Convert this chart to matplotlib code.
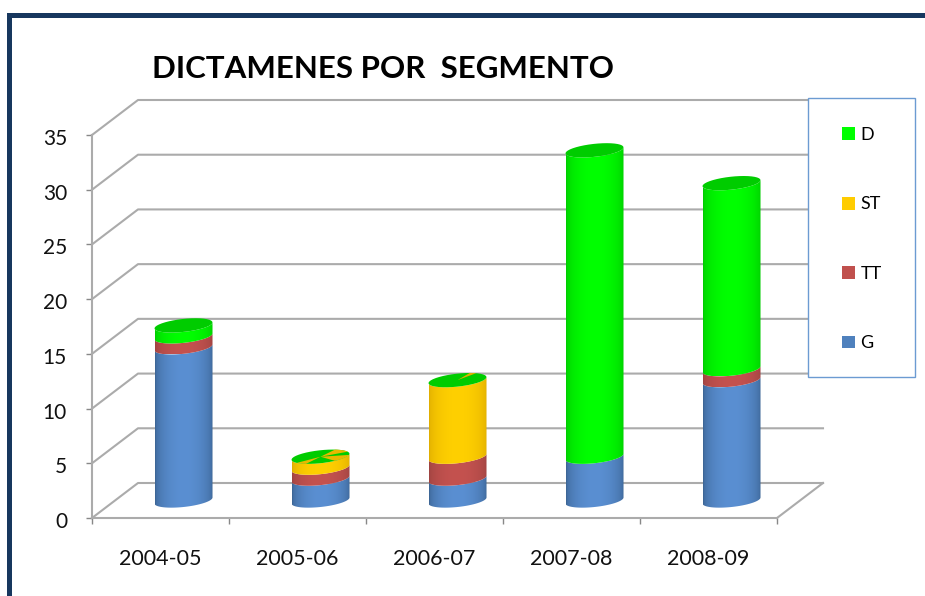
import matplotlib
matplotlib.use('Agg')
import matplotlib.pyplot as plt
from matplotlib.patches import Patch, Polygon, Rectangle
from matplotlib.transforms import ScaledTranslation
import numpy as np

# datos
periodos = ['2004-05', '2005-06', '2006-07', '2007-08', '2008-09']
G = [14, 2, 2, 4, 11]
TT = [1, 1, 2, 0, 1]
ST = [0, 1, 7, 0, 0]
D = [1, 0, 0, 28, 17]

series = [G, TT, ST, D]
nombres = ['G', 'TT', 'ST', 'D']
colores = ['#5A8FD2', '#C4524F', '#FFD000', '#00FF00']
bordes = ['#3D6696', '#9E4341', '#E0AE00', '#00CC00']
leyenda = ['#4F81BD', '#C0504D', '#FFCC00', '#00FF00']
yticks = [0, 5, 10, 15, 20, 25, 30, 35]

plt.rcParams['font.family'] = ['Lato', 'DejaVu Sans']

W, H = 925, 596
fig = plt.figure(figsize=(W / 100, H / 100), dpi=100)
ax = fig.add_axes([92 / W, 1 - 518 / H, 685 / W, 383 / H])
ax.set_xlim(-0.5, 4.5)
ax.set_ylim(0, 35)

# profundidad de la caja 3D, en unidades de los ejes
dx = 46 / 137
dy = 35 / (383 / 35)
gris = '#ABABAB'

for v in yticks:
    ax.plot([-0.5, -0.5 + dx, 4.5 + dx], [v, v + dy, v + dy], color=gris, lw=1.5, clip_on=False, zorder=1)
ax.plot([4.5, 4.5 + dx], [0, dy], color=gris, lw=1.5, clip_on=False, zorder=1)

# medidas del cilindro
a = 29 / 137
b = 6.5 / (383 / 35)
tilt = 3 / (383 / 35)


def arco(cx, v):
    # mitad delantera de la elipse, de izquierda a derecha
    t = np.linspace(np.pi, 2 * np.pi, 40)
    return cx + a * np.cos(t), v + dy / 2 + b * np.sin(t) + tilt * np.cos(t)


def tapa(cx, v, t0=0, t1=360):
    t = np.radians(np.linspace(t0, t1, 40))
    x = cx + a * np.cos(t)
    y = v + dy / 2 + b * np.sin(t) + tilt * np.cos(t)
    if t1 - t0 < 360:
        x = np.r_[cx, x]
        y = np.r_[v + dy / 2, y]
    return np.column_stack([x, y])


def tramo(cx, v0, v1, color, borde):
    x0, y0 = arco(cx, v0)
    x1, y1 = arco(cx, v1)
    pts = np.column_stack([np.r_[x0, x1[::-1]], np.r_[y0, y1[::-1]]])
    p = Polygon(pts, closed=True, fc='none', ec='none', transform=ax.transData)
    ax.add_patch(p)
    c0 = np.array(matplotlib.colors.to_rgb(borde))
    c1 = np.array(matplotlib.colors.to_rgb(color))
    f = np.sin(np.linspace(0, np.pi, 60))[:, None] ** 0.5
    img = (c0 + (c1 - c0) * f)[None, :, :]
    im = ax.imshow(img, extent=[cx - a, cx + a, pts[:, 1].min(), pts[:, 1].max()],
                   aspect='auto', interpolation='bilinear', zorder=3)
    im.set_clip_path(p)


for i in range(len(periodos)):
    cx = i + dx / 2
    base = 0
    for s in range(len(series)):
        val = series[s][i]
        if val > 0:
            tramo(cx, base, base + val, colores[s], bordes[s])
            base += val
    # la tapa siempre es de la serie D, aunque valga cero
    ax.add_patch(Polygon(tapa(cx, base), closed=True, fc=bordes[3], ec='none', zorder=4))

# sectores amarillos en las tapas de 2005-06 y 2006-07
for t0, t1 in [(300, 350), (20, 60), (215, 240)]:
    ax.add_patch(Polygon(tapa(1 + dx / 2, sum(s[1] for s in series), t0, t1), closed=True,
                         fc='#E8B800', ec='none', zorder=5))
ax.add_patch(Polygon(tapa(2 + dx / 2, sum(s[2] for s in series), 50, 65), closed=True,
                     fc='#E0AE00', ec='none', zorder=5))

for lado in ['top', 'right']:
    ax.spines[lado].set_visible(False)
for lado in ['left', 'bottom']:
    ax.spines[lado].set_color(gris)
    ax.spines[lado].set_linewidth(1.5)

ax.set_yticks(yticks)
ax.set_xticks(range(len(periodos)))
ax.set_xticklabels(periodos)
ax.set_xticks(np.arange(-0.5, 5), minor=True)
ax.tick_params(axis='x', which='major', length=0, pad=22, labelsize=15.5, labelcolor='#111111')
ax.tick_params(axis='x', which='minor', length=4, width=1, color='#888888')
ax.tick_params(axis='y', length=4, width=1, color='#888888', pad=14, labelsize=15, labelcolor='#111111')
for lab in ax.get_yticklabels():
    lab.set_transform(lab.get_transform() + ScaledTranslation(0, -2 / 100, fig.dpi_scale_trans))

fig.text(152 / W, 1 - 68.5 / H, 'DICTAMENES POR  SEGMENTO', fontsize=22.5, fontweight='bold',
         color='black', va='center')

# caja de la leyenda aparte, el relleno no es simetrico
fig.add_artist(Rectangle((808 / W, 1 - 377 / H), 107 / W, 279 / H, transform=fig.transFigure,
                         fc='white', ec='#6C9BD2', lw=1.0, zorder=9))
handles = [Patch(fc=leyenda[s], ec='none', label=nombres[s]) for s in [3, 2, 1, 0]]
ley = fig.legend(handles=handles, loc='upper left', bbox_to_anchor=(842 / W, 1 - 127 / H), borderaxespad=0,
                 fontsize=13, frameon=False, borderpad=0, labelspacing=2.96,
                 handlelength=0.72, handleheight=0.72, handletextpad=0.3)
ley.set_zorder(10)

# marco azul de la diapositiva
azul = '#17375E'
fig.add_artist(Rectangle((7 / W, 0), 5 / W, 1 - 13 / H, transform=fig.transFigure, fc=azul, ec='none'))
fig.add_artist(Rectangle((7 / W, 1 - 18 / H), 1 - 7 / W, 5 / H, transform=fig.transFigure, fc=azul, ec='none'))

fig.savefig('out.png', dpi=100)
